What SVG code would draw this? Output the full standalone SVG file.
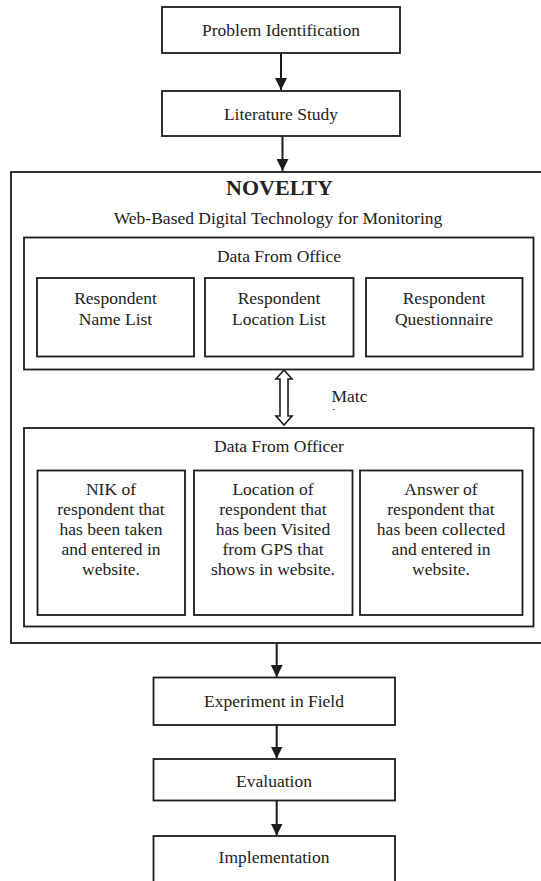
<svg xmlns="http://www.w3.org/2000/svg" width="541" height="881" viewBox="0 0 541 881">
<defs>
<style>
.box{fill:#fff;stroke:#1c1c1c;stroke-width:1.8}
.t{font-family:"Liberation Serif","Times New Roman",serif;font-size:17.5px;fill:#222;text-anchor:middle}
.b{font-weight:bold;font-size:22px}
.c{stroke:#1c1c1c;stroke-width:2;fill:none}
</style>
<marker id="ah" viewBox="0 0 12 12" refX="12" refY="6" markerWidth="12" markerHeight="12" markerUnits="userSpaceOnUse" orient="auto">
<path d="M0,0 L12,6 L0,12 z" fill="#1c1c1c"/>
</marker>
</defs>
<rect width="541" height="881" fill="#fff"/>

<g id="problem">
<rect class="box" x="162" y="7" width="238" height="46"/>
<text class="t" x="281" y="36">Problem Identification</text>
</g>
<g id="literature">
<rect class="box" x="162" y="91" width="238" height="45"/>
<text class="t" x="281" y="120">Literature Study</text>
</g>

<g id="novelty">
<rect class="box" x="11" y="172" width="540" height="471"/>
<text class="t b" x="279.5" y="195">NOVELTY</text>
<text class="t" x="278" y="224">Web-Based Digital Technology for Monitoring</text>
</g>

<g id="office">
<rect class="box" x="24" y="237.5" width="509.5" height="132"/>
<text class="t" x="279" y="262">Data From Office</text>
</g>
<g id="office-name">
<rect class="box" x="37" y="278" width="157" height="78.5"/>
<text class="t" x="115.5" y="304">Respondent</text>
<text class="t" x="115.5" y="325">Name List</text>
</g>
<g id="office-location">
<rect class="box" x="205" y="278" width="148.5" height="78.5"/>
<text class="t" x="279" y="304">Respondent</text>
<text class="t" x="279" y="325">Location List</text>
</g>
<g id="office-questionnaire">
<rect class="box" x="366" y="278" width="156.5" height="78.5"/>
<text class="t" x="444" y="304">Respondent</text>
<text class="t" x="444" y="325">Questionnaire</text>
</g>

<g id="match-label">
<text class="t" x="331.5" y="401.5" style="text-anchor:start">Matc</text>
<text class="t" x="332" y="412" style="text-anchor:start;font-size:9px">-</text>
</g>

<g id="officer">
<rect class="box" x="24" y="428" width="509.5" height="198.5"/>
<text class="t" x="279" y="451.5">Data From Officer</text>
</g>
<g id="officer-nik">
<rect class="box" x="37.5" y="470.5" width="147.5" height="144.5"/>
<text class="t" x="111" y="495">NIK of</text>
<text class="t" x="111" y="515">respondent that</text>
<text class="t" x="111" y="535">has been taken</text>
<text class="t" x="111" y="555">and entered in</text>
<text class="t" x="111" y="575">website.</text>
</g>
<g id="officer-location">
<rect class="box" x="194" y="470.5" width="158.5" height="144.5"/>
<text class="t" x="273" y="495">Location of</text>
<text class="t" x="273" y="515">respondent that</text>
<text class="t" x="273" y="535">has been Visited</text>
<text class="t" x="273" y="555">from GPS that</text>
<text class="t" x="273" y="575">shows in website.</text>
</g>
<g id="officer-answer">
<rect class="box" x="360" y="470.5" width="162.5" height="144.5"/>
<text class="t" x="441" y="495">Answer of</text>
<text class="t" x="441" y="515">respondent that</text>
<text class="t" x="441" y="535">has been collected</text>
<text class="t" x="441" y="555">and entered in</text>
<text class="t" x="441" y="575">website.</text>
</g>

<g id="experiment">
<rect class="box" x="153.5" y="677.5" width="241.5" height="47.5"/>
<text class="t" x="274" y="707">Experiment in Field</text>
</g>
<g id="evaluation">
<rect class="box" x="153.5" y="759" width="241.5" height="41.5"/>
<text class="t" x="274" y="786.5">Evaluation</text>
</g>
<g id="implementation">
<rect class="box" x="153.5" y="836" width="241.5" height="60"/>
<text class="t" x="274" y="863">Implementation</text>
</g>

<g id="connectors">
<line class="c" x1="281" y1="53" x2="281" y2="90" marker-end="url(#ah)"/>
<line class="c" x1="282.5" y1="136" x2="282.5" y2="171" marker-end="url(#ah)"/>
<polygon points="284,370 292,379 288,379 288,416 292,416 284,425 276,416 280,416 280,379 276,379" fill="#fff" stroke="#1c1c1c" stroke-width="1.6" stroke-linejoin="miter"/>
<line class="c" x1="276.7" y1="643" x2="276.7" y2="677" marker-end="url(#ah)"/>
<line class="c" x1="276.7" y1="725" x2="276.7" y2="758.5" marker-end="url(#ah)"/>
<line class="c" x1="276.7" y1="800.5" x2="276.7" y2="835.5" marker-end="url(#ah)"/>
</g>
</svg>
